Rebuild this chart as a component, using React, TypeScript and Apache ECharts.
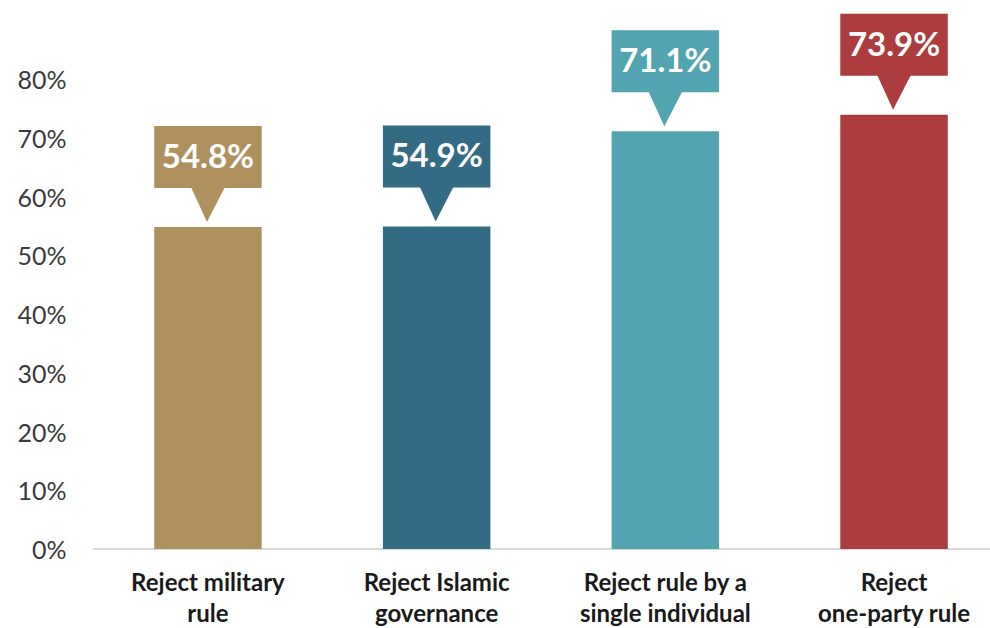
import React, { useEffect, useRef } from "react";
import * as echarts from "echarts";

const categories = [
  "Reject military\nrule",
  "Reject Islamic\ngovernance",
  "Reject rule by a\nsingle individual",
  "Reject\none-party rule",
];
const values = [54.8, 54.9, 71.1, 73.9];
const colors = ["#AF915F", "#336B85", "#52A4B0", "#AC3C3D"];
const yTicks = [0, 10, 20, 30, 40, 50, 60, 70, 80];

export default function App() {
  const ref = useRef<HTMLDivElement>(null);
  useEffect(() => {
    if (!ref.current) return;
    const chart = echarts.init(ref.current, null, { renderer: "svg" });
    const font = "Lato, 'Open Sans', sans-serif";
    chart.setOption({
      animation: false,
      grid: { left: 93.6, width: 914.8, top: 79, height: 474, containLabel: false },
      xAxis: {
        type: "category",
        data: categories,
        axisLine: { show: true, lineStyle: { color: "#D9D9D9", width: 2 } },
        axisTick: { show: false },
        axisLabel: {
          interval: 0,
          margin: 17,
          fontFamily: font,
          fontWeight: "bold",
          fontSize: 24,
          lineHeight: 31,
          color: "#1A1A1A",
        },
      },
      yAxis: {
        type: "value",
        min: yTicks[0],
        max: yTicks[yTicks.length - 1],
        interval: 10,
        splitLine: { show: false },
        axisLine: { show: false },
        axisTick: { show: false },
        axisLabel: {
          margin: 27,
          fontFamily: font,
          fontSize: 25,
          color: "#3A3A3A",
          formatter: (v: number) => `${v}%`,
        },
      },
      series: [
        {
          type: "bar",
          barWidth: "47%",
          data: values.map((v, i) => ({ value: v, itemStyle: { color: colors[i] } })),
        },
        {
          type: "custom",
          clip: false,
          data: values.map((v, i) => [i, v]),
          z: 10,
          renderItem: (params: any, api: any) => {
            const idx = api.value(0);
            const val = api.value(1);
            const p = api.coord([idx, val]);
            const w = api.size([1, 0])[0] * 0.47;
            const x0 = p[0] - w / 2;
            const tipY = p[1] - 5;
            const boxBottom = p[1] - 39;
            const boxTop = p[1] - 101;
            const color = colors[params.dataIndex];
            return {
              type: "group",
              children: [
                {
                  type: "rect",
                  shape: { x: x0, y: boxTop, width: w, height: boxBottom - boxTop },
                  style: { fill: color },
                },
                {
                  type: "polygon",
                  shape: {
                    points: [
                      [p[0] - 17, boxBottom - 1],
                      [p[0] + 17, boxBottom - 1],
                      [p[0] - 1, tipY],
                    ],
                  },
                  style: { fill: color },
                },
                {
                  type: "text",
                  style: {
                    text: `${val.toFixed(1)}%`,
                    x: p[0],
                    y: boxTop + 29,
                    align: "center",
                    verticalAlign: "middle",
                    fill: "#FFFFFF",
                    fontSize: 33,
                    fontWeight: "bold",
                    fontFamily: font,
                  },
                },
              ],
            };
          },
        },
      ],
    });
    return () => chart.dispose();
  }, []);
  return (
    <div
      style={{
        position: "absolute",
        left: 0,
        top: 0,
        width: 990,
        height: 628,
        overflow: "hidden",
        background: "#fff",
      }}
    >
      <div ref={ref} style={{ width: 1010, height: 628 }} />
    </div>
  );
}
